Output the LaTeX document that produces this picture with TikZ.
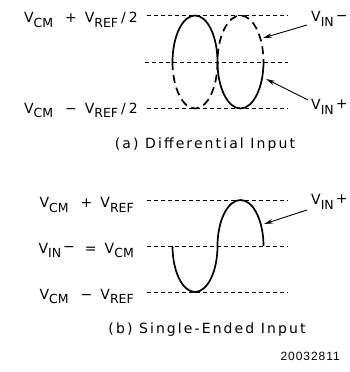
\documentclass[tikz,border=0pt]{standalone}
\usepackage{fontspec}
\setmainfont{DejaVu Sans}
\newfontfamily\capfont[LetterSpace=15]{DejaVu Sans}
\newfontfamily\numfont[LetterSpace=8]{Liberation Sans}
\usetikzlibrary{arrows.meta}
\newcommand{\lsb}[1]{\raisebox{-4.5pt}{\fontsize{12.5}{12.5}\selectfont #1}}
\newcommand{\lsg}[1]{\raisebox{1.5pt}{#1}}
\tikzset{
  lab/.style={inner sep=0pt, font=\fontsize{14}{14}\selectfont},
  refline/.style={dash pattern=on 4pt off 3pt, line width=0.7pt},
  sig/.style={line width=1.7pt},
  sigdash/.style={line width=1.7pt, dash pattern=on 8pt off 5pt},
  arr/.style={line width=0.9pt, -{Stealth[length=9pt,width=4.5pt]}},
}
\begin{document}
\begin{tikzpicture}[x=1pt,y=1pt]
\useasboundingbox (0,0) rectangle (349,372);
% ---------- (a) differential ----------
\coordinate (t1a) at (147,356.5); \coordinate (t1b) at (288,356.5);
\coordinate (t2a) at (145,310);   \coordinate (t2b) at (288,310);
\coordinate (t3a) at (147,263.5); \coordinate (t3b) at (288,263.5);
\draw[refline] (t1a) -- (t1b);
\draw[refline] (t2a) -- (t2b);
\draw[refline] (t3a) -- (t3b);
\coordinate (sa) at (172.5,310);
\draw[sig] (sa) arc[start angle=180, end angle=0, x radius=22.5, y radius=46.5]
               arc[start angle=180, end angle=360, x radius=23, y radius=46.5];
\draw[sigdash] (sa) arc[start angle=180, end angle=360, x radius=22.5, y radius=46.5]
               arc[start angle=180, end angle=0, x radius=23, y radius=46.5];
\node[lab, anchor=base east] (l1) at (138,349)
  {V\lsb{CM}\hspace{12pt}+\hspace{8pt}V\lsb{REF}\hspace{3pt}/\hspace{3pt}2};
\node[lab, anchor=base east] (l2) at (138,258.5)
  {V\lsb{CM}\hspace{12pt}−\hspace{8pt}V\lsb{REF}\hspace{3pt}/\hspace{3pt}2};
\node[lab, anchor=base west] (vinm) at (311,350) {V\lsb{IN}\hspace{2pt}\lsg{−}};
\node[lab, anchor=base west] (vinp) at (311,262) {V\lsb{IN}\hspace{2pt}\lsg{+}};
\coordinate (am0) at (307,347); \coordinate (am1) at (263,334);
\coordinate (ap0) at (308,272); \coordinate (ap1) at (266,293);
\draw[arr] (am0) -- (am1);
\draw[arr] (ap0) -- (ap1);
\node[anchor=base, inner sep=0pt] (capa) at (205,223)
  {\capfont\fontsize{14}{14}\selectfont (a) Differential Input};
% ---------- (b) single-ended ----------
\coordinate (b1a) at (147,171.5); \coordinate (b1b) at (288,171.5);
\coordinate (b2a) at (147,126);   \coordinate (b2b) at (288,126);
\coordinate (b3a) at (147,80);    \coordinate (b3b) at (288,80);
\draw[refline] (b1a) -- (b1b);
\draw[refline] (b2a) -- (b2b);
\draw[refline] (b3a) -- (b3b);
\coordinate (sb) at (172.5,126);
\draw[sig] (sb) arc[start angle=180, end angle=360, x radius=22.5, y radius=46]
               arc[start angle=180, end angle=0, x radius=23, y radius=46];
\node[lab, anchor=base east] (m1) at (134,164)
  {V\lsb{CM}\hspace{12pt}+\hspace{8pt}V\lsb{REF}};
\node[lab, anchor=base east] (m2) at (134,118.5)
  {V\lsb{IN}\hspace{2pt}\lsg{−}\hspace{10pt}=\hspace{8pt}V\lsb{CM}};
\node[lab, anchor=base east] (m3) at (134,72.5)
  {V\lsb{CM}\hspace{12pt}−\hspace{8pt}V\lsb{REF}};
\node[lab, anchor=base west] (vinb) at (311,167) {V\lsb{IN}\hspace{2pt}\lsg{+}};
\coordinate (ab0) at (307,162); \coordinate (ab1) at (264,148);
\draw[arr] (ab0) -- (ab1);
\node[anchor=base, inner sep=0pt] (capb) at (207,38)
  {\capfont\fontsize{14}{14}\selectfont (b) Single-Ended Input};
\node[anchor=base east, inner sep=0pt] (num) at (340,12)
  {\numfont\fontsize{12}{12}\selectfont 20032811};
\end{tikzpicture}
\end{document}
